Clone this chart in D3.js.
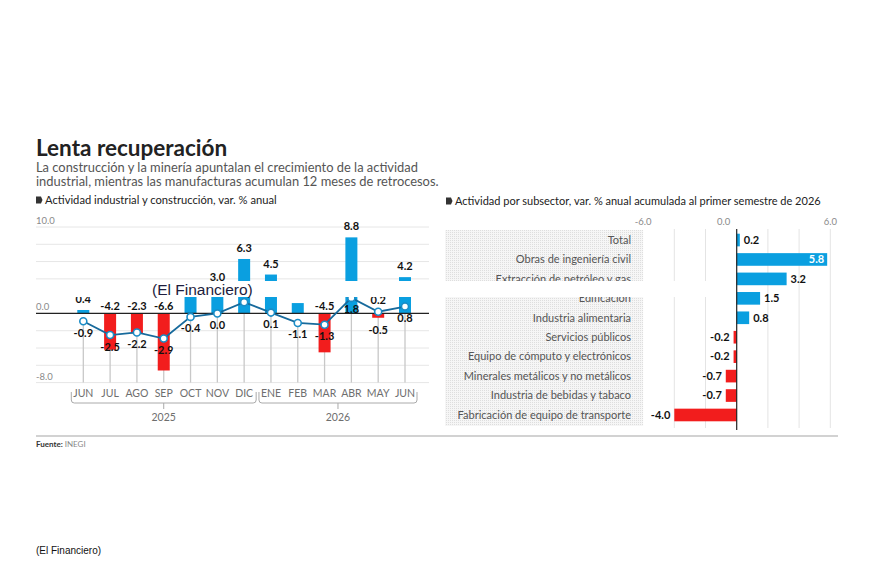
<!DOCTYPE html>
<html>
<head>
<meta charset="utf-8">
<script src="https://cdn.jsdelivr.net/npm/d3@7"></script>
<style>
  body { margin: 0; background: #fff; }
  svg { display: block; font-family: Lato, "Open Sans", sans-serif; }
</style>
</head>
<body>
<div id="chart"></div>
<script>
// monthly series (left panel)
const months = ["JUN", "JUL", "AGO", "SEP", "OCT", "NOV", "DIC", "ENE", "FEB", "MAR", "ABR", "MAY", "JUN"];
const monthYears = ["2025", "2025", "2025", "2025", "2025", "2025", "2025", "2026", "2026", "2026", "2026", "2026", "2026"];
const construccion = [0.4, -4.2, -2.3, -6.6, 2.1, 3.0, 6.3, 4.5, 1.2, -4.5, 8.8, -0.5, 4.2];
const industrial = [-0.9, -2.5, -2.2, -2.9, -0.4, 0.0, 1.3, 0.1, -1.1, -1.3, 1.8, 0.2, 0.8];
const leftTicks = [10, 0, -8];

// subsectors (right panel)
const subsectors = [
  "Total", "Obras de ingeniería civil", "Extracción de petróleo y gas", "Edificación",
  "Industria alimentaria", "Servicios públicos", "Equipo de cómputo y electrónicos",
  "Minerales metálicos y no metálicos", "Industria de bebidas y tabaco",
  "Fabricación de equipo de transporte"
];
const subsectorValues = [0.2, 5.8, 3.2, 1.5, 0.8, -0.2, -0.2, -0.7, -0.7, -4.0];
const rightTicks = [-6, 0, 6];

const BLUE = "#0a9fe0", RED = "#f21d1d", LINE = "#176a9c";
const fmt = d => d.toFixed(1);

// white strip of the "(El Financiero)" overlay; labels fully inside it are not drawn
const stripTop = 281, stripBottom = 297;
const inStrip = cy => cy > stripTop + 3 && cy < stripBottom - 3;

const width = 870, height = 580;
const svg = d3.select("#chart").append("svg")
  .attr("width", width)
  .attr("height", height);

// header
svg.append("text").attr("x", 36).attr("y", 156)
  .style("font-size", "22.5px").style("font-weight", 700).attr("fill", "#222")
  .text("Lenta recuperación");
const sub = svg.append("text").attr("fill", "#555").style("font-size", "12.9px");
sub.append("tspan").attr("x", 36).attr("y", 171.5)
  .text("La construcción y la minería apuntalan el crecimiento de la actividad");
sub.append("tspan").attr("x", 36).attr("y", 186)
  .text("industrial, mientras las manufacturas acumulan 12 meses de retrocesos.");

function sectionLabel(x, y, txt, size) {
  svg.append("path")
    .attr("d", `M${x},${y - 7.5}h5l1.5,3.5l-1.5,3.5h-5z`)
    .attr("fill", "#333");
  svg.append("text").attr("x", x + 9).attr("y", y)
    .style("font-size", size).attr("fill", "#222").text(txt);
}
sectionLabel(36, 204, "Actividad industrial y construcción, var. % anual", "11.2px");
sectionLabel(446, 205, "Actividad por subsector, var. % anual acumulada al primer semestre de 2026", "11px");

// ---------- left panel ----------
const x = d3.scalePoint().domain(d3.range(months.length)).range([83.3, 405]);
const y = d3.scaleLinear().domain([-8, 10]).range([382.6, 227]);

const left = svg.append("g");
left.append("g").selectAll("line")
  .data(d3.range(-8, 11, 2))
  .join("line")
  .attr("x1", 36).attr("x2", 429)
  .attr("y1", d => y(d)).attr("y2", d => y(d))
  .attr("stroke", "#e6e6e6");

left.append("g").selectAll("text")
  .data(leftTicks)
  .join("text")
  .attr("x", 36).attr("y", d => y(d) - 3)
  .style("font-size", "9.5px").attr("fill", "#8a8a8a")
  .text(d => fmt(d));

// drop lines from the line markers
left.append("g").selectAll("line")
  .data(industrial)
  .join("line")
  .attr("x1", (d, i) => x(i)).attr("x2", (d, i) => x(i))
  .attr("y1", d => y(d)).attr("y2", y(-8))
  .attr("stroke", "#c8c8c8").attr("stroke-width", 1.3);

const bw = 12;
left.append("g").selectAll("rect")
  .data(construccion)
  .join("rect")
  .attr("x", (d, i) => x(i) - bw / 2)
  .attr("width", bw)
  .attr("y", d => y(Math.max(0, d)))
  .attr("height", d => Math.abs(y(d) - y(0)))
  .attr("fill", d => d < 0 ? RED : BLUE);

left.append("line")
  .attr("x1", 36).attr("x2", 429)
  .attr("y1", y(0)).attr("y2", y(0))
  .attr("stroke", "#222").attr("stroke-width", 1.2);

// bar value labels (MAY sits under its bar)
const barLabelBelow = new Set([11]);
const barLabels = construccion.map((d, i) => ({
  v: d, i,
  y: barLabelBelow.has(i) ? y(d) + 16 : (d >= 0 ? y(d) - 7 : y(0) - 3.5)
})).filter(d => !inStrip(d.y - 3.8));
left.append("g").selectAll("text")
  .data(barLabels)
  .join("text")
  .attr("x", d => x(d.i))
  .attr("y", d => d.y)
  .attr("text-anchor", "middle")
  .style("font-size", "11px").style("font-weight", 700).attr("fill", "#111")
  .text(d => fmt(d.v));

left.append("path")
  .datum(industrial)
  .attr("fill", "none")
  .attr("stroke", LINE)
  .attr("stroke-width", 1.8)
  .attr("d", d3.line().x((d, i) => x(i)).y(d => y(d)));

left.append("g").selectAll("circle")
  .data(industrial)
  .join("circle")
  .attr("cx", (d, i) => x(i)).attr("cy", d => y(d))
  .attr("r", 3.5)
  .attr("fill", "#fff").attr("stroke", "#1a8cc6").attr("stroke-width", 1.6);

// line labels (DIC and MAY sit above the marker)
const lineLabelAbove = new Set([6, 11]);
const lineLabels = industrial.map((d, i) => ({
  v: d, i,
  y: lineLabelAbove.has(i) ? y(d) - 8 : y(d) + 15.5
})).filter(d => !inStrip(d.y - 3.8));
left.append("g").selectAll("text")
  .data(lineLabels)
  .join("text")
  .attr("x", d => x(d.i))
  .attr("y", d => d.y)
  .attr("text-anchor", "middle")
  .style("font-size", "11px").style("font-weight", 700).attr("fill", "#111")
  .text(d => fmt(d.v));

// month axis
left.append("g").selectAll("text")
  .data(months)
  .join("text")
  .attr("x", (d, i) => x(i)).attr("y", 397)
  .attr("text-anchor", "middle")
  .style("font-size", "10.5px").attr("fill", "#6e6e6e")
  .text(d => d);

const yearGroups = d3.groups(d3.range(months.length), i => monthYears[i]);
yearGroups.forEach(([yrLabel, idx]) => {
  const x0 = x(idx[0]) - 12, x1 = x(idx[idx.length - 1]) + 12;
  const cx = (x(idx[0]) + x(idx[idx.length - 1])) / 2;
  left.append("path")
    .attr("d", `M${x0},392V400Q${x0},403 ${x0 + 3},403H${x1 - 3}Q${x1},403 ${x1},400V392M${cx},403V409`)
    .attr("fill", "none").attr("stroke", "#aaa");
  left.append("text")
    .attr("x", cx).attr("y", 421)
    .attr("text-anchor", "middle")
    .style("font-size", "10.5px").attr("fill", "#6e6e6e")
    .text(yrLabel);
});

// ---------- right panel ----------
const xr = d3.scaleLinear().domain([-6, 6]).range([643.1, 830.3]);
const yr = d3.scaleBand().domain(subsectors).range([230.3, 424.7])
  .paddingInner(0.35).paddingOuter(0.175);

const defs = svg.append("defs");
const pat = defs.append("pattern").attr("id", "dots")
  .attr("width", 2).attr("height", 2).attr("patternUnits", "userSpaceOnUse");
pat.append("rect").attr("width", 2).attr("height", 2).attr("fill", "#f6f6f6");
pat.append("rect").attr("width", 1).attr("height", 1).attr("fill", "#dedede");

const right = svg.append("g");
right.append("rect")
  .attr("x", 445).attr("y", 230)
  .attr("width", xr(-6) - 445).attr("height", 196)
  .attr("fill", "url(#dots)");

right.append("g").selectAll("line")
  .data(d3.range(-4, 7, 2).filter(d => d !== 0))
  .join("line")
  .attr("x1", d => xr(d)).attr("x2", d => xr(d))
  .attr("y1", 229).attr("y2", 428)
  .attr("stroke", "#e4e4e4");

right.append("g").selectAll("text")
  .data(rightTicks)
  .join("text")
  .attr("x", d => xr(d) + (d === 0 ? -13 : 0)).attr("y", 224.5)
  .attr("text-anchor", "middle")
  .style("font-size", "9.5px").attr("fill", "#8a8a8a")
  .text(d => fmt(d));

right.append("g").selectAll("text")
  .data(subsectors)
  .join("text")
  .attr("x", 631).attr("y", d => yr(d) + yr.bandwidth() / 2 + 3.8)
  .attr("text-anchor", "end")
  .style("font-size", "11px").attr("fill", "#555")
  .text(d => d);

right.append("g").selectAll("rect")
  .data(subsectorValues)
  .join("rect")
  .attr("x", d => xr(Math.min(0, d)))
  .attr("width", d => Math.abs(xr(d) - xr(0)))
  .attr("y", (d, i) => yr(subsectors[i]))
  .attr("height", yr.bandwidth())
  .attr("fill", d => d < 0 ? RED : BLUE);

right.append("line")
  .attr("x1", xr(0)).attr("x2", xr(0))
  .attr("y1", 229).attr("y2", 430)
  .attr("stroke", "#222").attr("stroke-width", 1.2);

right.append("g").selectAll("text")
  .data(subsectorValues)
  .join("text")
  .attr("x", d => d > 5 ? xr(d) - 3 : (d >= 0 ? xr(d) + 4 : xr(d) - 4))
  .attr("y", (d, i) => yr(subsectors[i]) + yr.bandwidth() / 2 + 3.8)
  .attr("text-anchor", d => (d > 5 || d < 0) ? "end" : "start")
  .style("font-size", "11px").style("font-weight", 700)
  .attr("fill", d => d > 5 ? "#fff" : "#111")
  .text(d => fmt(d));

// footer
svg.append("line")
  .attr("x1", 36).attr("x2", 838).attr("y1", 436).attr("y2", 436)
  .attr("stroke", "#d2d2d2").attr("stroke-width", 2);
const src = svg.append("text").attr("x", 36).attr("y", 447).style("font-size", "8px");
src.append("tspan").style("font-weight", 700).attr("fill", "#333").text("Fuente: ");
src.append("tspan").attr("fill", "#888").text("INEGI");

// watermark strip over the chart
svg.append("rect")
  .attr("x", 30).attr("y", stripTop).attr("width", 705).attr("height", stripBottom - stripTop)
  .attr("fill", "#fff");
svg.append("text")
  .attr("x", 152).attr("y", 295)
  .style("font-family", "'Liberation Sans', Arial, sans-serif")
  .style("font-size", "15.5px").attr("fill", "#1d1d3d")
  .text("(El Financiero)");

svg.append("text")
  .attr("x", 36).attr("y", 553.5)
  .style("font-family", "'Liberation Sans', Arial, sans-serif")
  .style("font-size", "10px").attr("fill", "#111")
  .text("(El Financiero)");
</script>
</body>
</html>
